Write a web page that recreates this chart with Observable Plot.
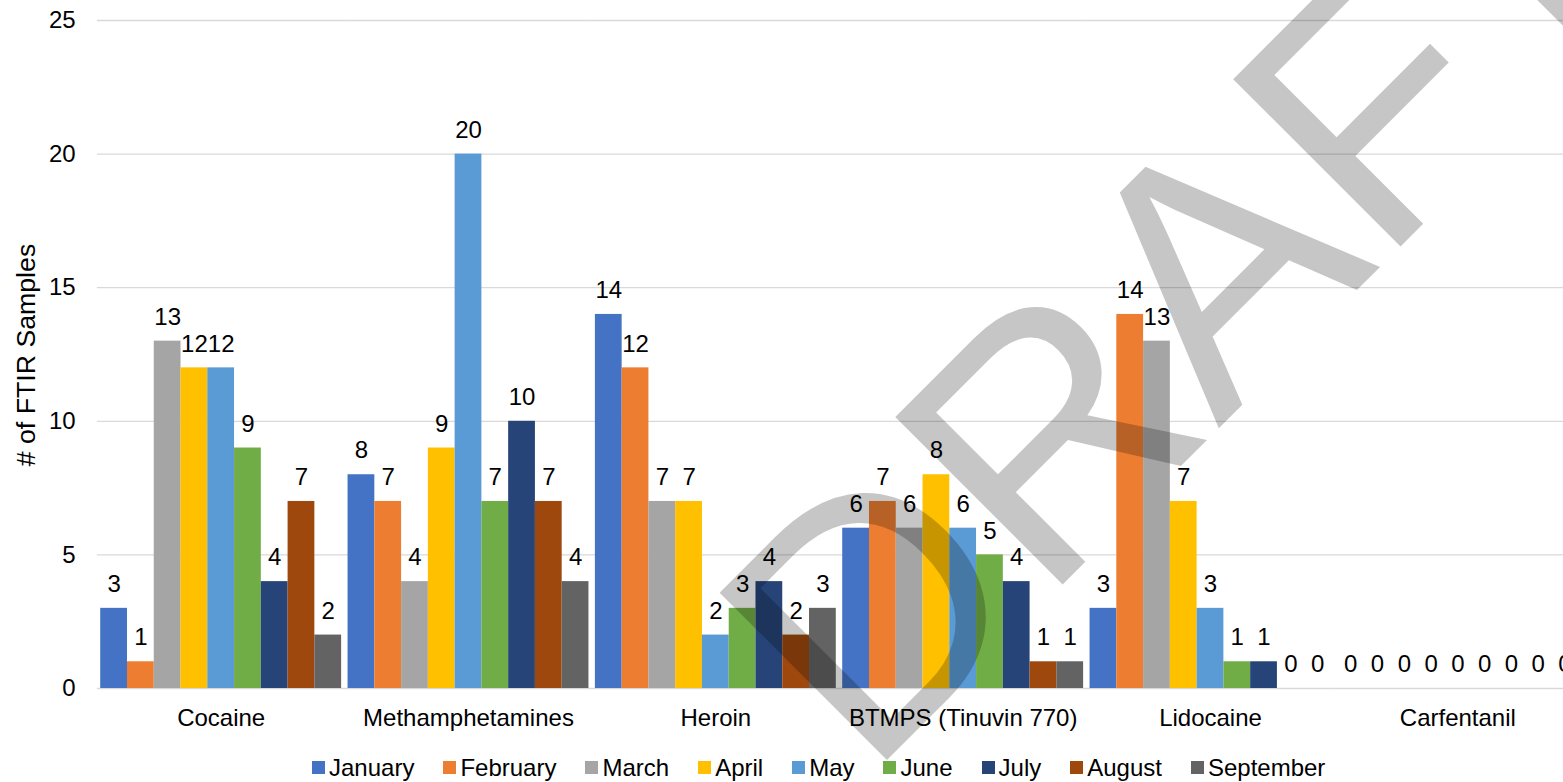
<!DOCTYPE html>
<html>
<head>
<meta charset="utf-8">
<script src="https://cdn.jsdelivr.net/npm/d3@7"></script>
<script src="https://cdn.jsdelivr.net/npm/@observablehq/plot@0.6"></script>
<style>
  html, body { margin: 0; padding: 0; background: #fff; }
  body { width: 1563px; height: 782px; overflow: hidden; position: relative; font-family: "Liberation Sans", Arial, sans-serif; }
  #chart { position: absolute; left: 0; top: 0; width: 1600px; }
  #chart svg { max-width: none !important; }
  #ylabel { position: absolute; left: 26px; top: 355px; transform: translate(-50%, -50%) rotate(-90deg); font-size: 26.7px; white-space: nowrap; color: #000; line-height: 1; }
  #legend { position: absolute; left: 312px; top: 755px; height: 25px; display: flex; align-items: center; font-size: 24px; color: #000; white-space: nowrap; }
  .item { display: flex; align-items: center; margin-right: 29px; }
  .sw { width: 13px; height: 13px; margin-right: 4px; }
  #wm { position: absolute; left: 0; top: 0; pointer-events: none; }
</style>
</head>
<body>
<div id="chart"></div>
<div id="ylabel"># of FTIR Samples</div>
<div id="legend"></div>
<svg id="wm" width="1563" height="782"></svg>
<script>
const categories = ["Cocaine", "Methamphetamines", "Heroin", "BTMPS (Tinuvin 770)", "Lidocaine", "Carfentanil"];
const months = ["January", "February", "March", "April", "May", "June", "July", "August", "September"];
const monthColors = ["#4472C4", "#ED7D31", "#A5A5A5", "#FFC000", "#5B9BD5", "#70AD47", "#264478", "#9E480E", "#636363"];

const cocaine = [3, 1, 13, 12, 12, 9, 4, 7, 2];
const methamphetamines = [8, 7, 4, 9, 20, 7, 10, 7, 4];
const heroin = [14, 12, 7, 7, 2, 3, 4, 2, 3];
const btmps = [6, 7, 6, 8, 6, 5, 4, 1, 1];
const lidocaine = [3, 14, 13, 7, 3, 1, 1, 0, 0];
const carfentanil = [0, 0, 0, 0, 0, 0, 0, 0, 0];

const yTicks = [0, 5, 10, 15, 20, 25];
const yLabel = "# of FTIR Samples";
const watermark = "DRAFT";

const series = [cocaine, methamphetamines, heroin, btmps, lidocaine, carfentanil];
const data = [];
categories.forEach((c, i) => months.forEach((m, j) => data.push({cat: c, month: m, value: series[i][j]})));

const chart = Plot.plot({
  width: 1581,
  height: 745,
  marginLeft: 97,
  marginRight: 0,
  marginTop: 20,
  marginBottom: 57,
  style: {fontFamily: "'Liberation Sans', Arial, sans-serif", fontSize: "24px", color: "#000", background: "transparent", maxWidth: "none"},
  fx: {domain: categories, paddingInner: 0.026, paddingOuter: 0.013, round: false, label: null},
  x: {domain: months, padding: 0, round: false, axis: null},
  y: {domain: [0, 25], ticks: yTicks, label: null},
  color: {domain: months, range: monthColors},
  marks: [
    Plot.ruleY(yTicks, {stroke: "#d9d9d9", strokeWidth: 1.33, insetLeft: -3.3, insetRight: -3.3}),
    Plot.barY(data, {fx: "cat", x: "month", y: "value", fill: "month"}),
    Plot.text(data, {fx: "cat", x: "month", y: "value", text: d => String(d.value), lineAnchor: "middle", dy: -24, fontSize: 24, fill: "#000"}),
    Plot.axisY({ticks: yTicks, tickSize: 0, tickPadding: 25, label: null, fontSize: 24}),
    Plot.axisFx({anchor: "bottom", tickSize: 0, tickPadding: 20, label: null, fontSize: 24})
  ]
});
chart.style.maxWidth = "none";
chart.style.width = "1581px";
chart.style.height = "745px";
document.getElementById("chart").appendChild(chart);

const legend = document.getElementById("legend");
months.forEach((m, i) => {
  const it = document.createElement("div");
  it.className = "item";
  const sw = document.createElement("div");
  sw.className = "sw";
  sw.style.background = monthColors[i];
  const t = document.createElement("span");
  t.textContent = m;
  it.appendChild(sw);
  it.appendChild(t);
  legend.appendChild(it);
});

const wm = d3.select("#wm");
wm.append("text")
  .attr("x", 867).attr("y", 780)
  .attr("transform", "rotate(-45 867 780)")
  .attr("font-family", "'Liberation Sans', Arial, sans-serif")
  .attr("font-size", 344)
  .attr("fill", "#000")
  .attr("fill-opacity", 0.225)
  .text(watermark);
</script>
</body>
</html>
